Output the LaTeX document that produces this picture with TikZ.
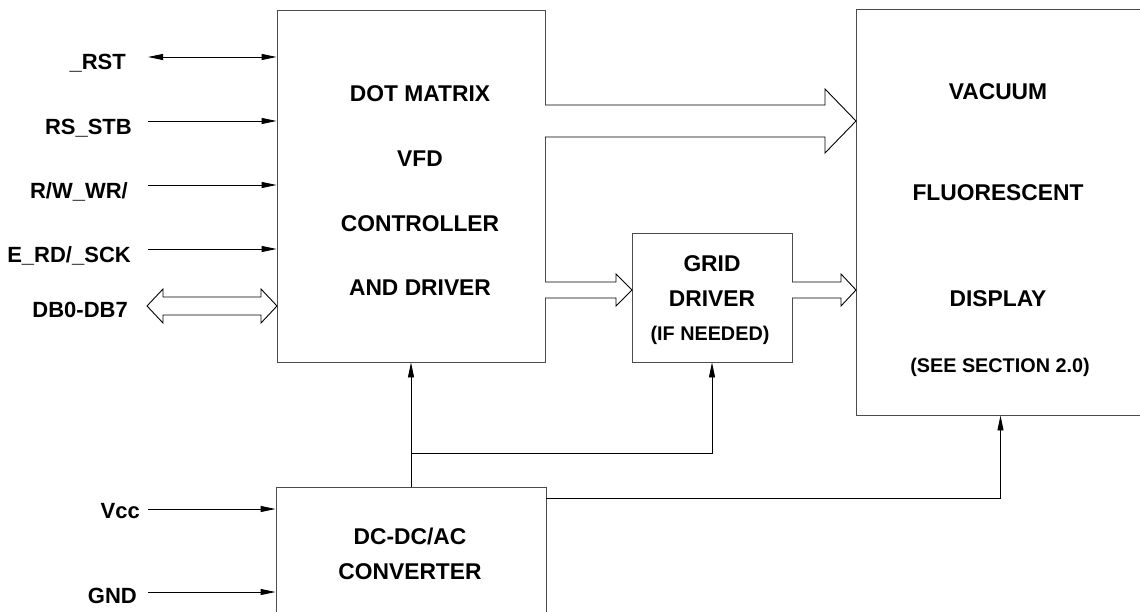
\documentclass[tikz,border=0pt]{standalone}
\usepackage{fontspec}
\setmainfont{Liberation Sans}
\usetikzlibrary{arrows.meta,positioning}
\tikzset{
  block/.style={draw=black!70, line width=0.9pt, inner sep=0pt},
  txt/.style={font=\fontsize{22.8}{24}\selectfont\bfseries, anchor=base, inner sep=0pt},
  small/.style={font=\fontsize{19.8}{21}\selectfont\bfseries, anchor=base, inner sep=0pt},
  pin/.style={font=\fontsize{22}{24}\selectfont\bfseries, anchor=base east, inner sep=0pt},
  sig/.style={line width=0.9pt, -{Triangle[length=15pt,width=6pt]}},
  bisig/.style={line width=0.9pt, {Triangle[length=15pt,width=6pt]}-{Triangle[length=15pt,width=6pt]}},
  bus/.style={draw, line width=0.9pt, fill=white, line join=miter},
}
\begin{document}
\begin{tikzpicture}[x=1pt,y=-1pt]
  \useasboundingbox (0,0) rectangle (1140,612);
  % blocks
  \node[block, minimum width=268pt, minimum height=352pt] (ctrl) at (411,186) {};
  \node[block, minimum width=289pt, minimum height=406pt] (vfd) at (1000.5,212) {};
  \node[block, minimum width=160pt, minimum height=129pt] (grid) at (712,297.5) {};
  \node[block, minimum width=270pt, minimum height=150pt] (conv) at (411,562) {};
  % block texts
  \node[txt] (ctrl1) at (420,102) {DOT MATRIX};
  \node[txt] (ctrl2) at (420,167) {VFD};
  \node[txt] (ctrl3) at (420,232) {CONTROLLER};
  \node[txt] (ctrl4) at (420,295) {AND DRIVER};
  \node[txt] (grid1) at (712,272) {GRID};
  \node[txt] (grid2) at (712,306) {DRIVER};
  \node[small] (grid3) at (710,340) {(IF NEEDED)};
  \node[txt] (vfd1) at (998,100) {VACUUM};
  \node[txt] (vfd2) at (998,201) {FLUORESCENT};
  \node[txt] (vfd3) at (998,306) {DISPLAY};
  \node[small] (vfd4) at (1000,372) {(SEE SECTION 2.0)};
  \node[txt] (conv1) at (410,544) {DC-DC/AC};
  \node[txt] (conv2) at (410,579) {CONVERTER};
  % pin labels
  \node[pin] (lrst) at (126,70) {\_RST};
  \node[pin] (lstb) at (132,135) {RS\_STB};
  \node[pin] (lwr) at (128,199) {R/W\_WR/};
  \node[pin] (lsck) at (131,263) {E\_RD/\_SCK};
  \node[pin] (ldb) at (128,317) {DB0-DB7};
  \node[pin] (lvcc) at (140,518) {Vcc};
  \node[pin] (lgnd) at (137,603) {GND};
  % pin lines
  \coordinate (rst) at (148,57);
  \coordinate (stb) at (148,121);
  \coordinate (wr) at (148,185);
  \coordinate (sck) at (148,249);
  \coordinate (vcc) at (148,509);
  \coordinate (gnd) at (148,592);
  \draw[bisig] (rst) -- (rst -| ctrl.west);
  \draw[sig] (stb) -- (stb -| ctrl.west);
  \draw[sig] (wr) -- (wr -| ctrl.west);
  \draw[sig] (sck) -- (sck -| ctrl.west);
  \draw[sig] (vcc) -- (vcc -| conv.west);
  \draw[sig] (gnd) -- (gnd -| conv.west);
  % data bus
  \draw[bus] (147,306) -- (163,289) -- (163,297) -- (261,297) -- (261,289)
    -- (277,306) -- (261,323) -- (261,315) -- (163,315) -- (163,323) -- cycle;
  % segment and grid buses
  \draw[bus] (545,105) -- (825,105) -- (825,89) -- (856,121)
    -- (825,153) -- (825,137) -- (545,137);
  \draw[bus] (545,282) -- (616,282) -- (616,274) -- (632,290)
    -- (616,306) -- (616,298) -- (545,298);
  \draw[bus] (792,282) -- (841,282) -- (841,274) -- (856,290)
    -- (841,306) -- (841,298) -- (792,298);
  % power
  \coordinate (split) at (411,453);
  \coordinate (vsup) at (0,498);
  \draw[sig] (conv.north) -- (ctrl.south);
  \draw[sig] (split) -| (grid.south);
  \draw[sig] (conv.east |- vsup) -| (vfd.south);
\end{tikzpicture}
\end{document}
